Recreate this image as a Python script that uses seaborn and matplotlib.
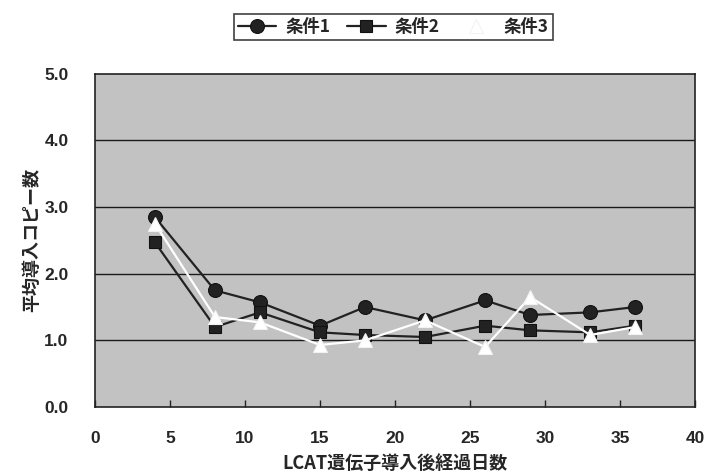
import matplotlib
matplotlib.use("Agg")
import matplotlib.pyplot as plt
import seaborn as sns
import pandas as pd

# Days after LCAT gene transfer and mean copy number per condition
days = [4, 8, 11, 15, 18, 22, 26, 29, 33, 36]
cond1 = [2.85, 1.75, 1.57, 1.22, 1.50, 1.30, 1.60, 1.38, 1.42, 1.50]
cond2 = [2.47, 1.20, 1.42, 1.12, 1.08, 1.05, 1.22, 1.15, 1.12, 1.22]
cond3 = [2.75, 1.35, 1.27, 0.93, 1.00, 1.30, 0.90, 1.65, 1.08, 1.20]
labels = ["条件1", "条件2", "条件3"]
y_ticks = [0.0, 1.0, 2.0, 3.0, 4.0, 5.0]
x_ticks = [0, 5, 10, 15, 20, 25, 30, 35, 40]

sns.set_theme(style="white")
plt.rcParams["font.family"] = ["Noto Sans CJK JP", "DejaVu Sans"]

df = pd.DataFrame({
    "day": days * 3,
    "copies": cond1 + cond2 + cond3,
    "cond": [labels[0]] * len(days) + [labels[1]] * len(days) + [labels[2]] * len(days),
})

fig = plt.figure(figsize=(7.08, 4.76), dpi=100)
ax = fig.add_axes([0.134, 0.145, 0.848, 0.700])
ax.set_facecolor("#c2c2c2")

styles = {
    labels[0]: dict(color="#222222", marker="o", markersize=10, mfc="#222222", mec="#111111", lw=1.6, z=3),
    labels[1]: dict(color="#222222", marker="s", markersize=9, mfc="#222222", mec="#111111", lw=1.6, z=4),
    labels[2]: dict(color="#ffffff", marker="^", markersize=10, mfc="#ffffff", mec="#f2f2f2", lw=1.6, z=5),
}
for name in labels:
    s = styles[name]
    sub = df[df["cond"] == name]
    sns.lineplot(data=sub, x="day", y="copies", ax=ax, color=s["color"], lw=s["lw"],
                 marker=s["marker"], markersize=s["markersize"],
                 markerfacecolor=s["mfc"], markeredgecolor=s["mec"], markeredgewidth=0.8,
                 label=name, zorder=s["z"])

num_font = ["Liberation Sans", "DejaVu Sans"]
ax.set_xlim(0, 40)
ax.set_ylim(0, 5)
ax.set_xticks(x_ticks)
ax.set_yticks(y_ticks)
ax.set_xticklabels([str(v) for v in x_ticks], fontsize=12.5, fontweight="bold", family=num_font)
ax.set_yticklabels([f"{v:.1f}" for v in y_ticks], fontsize=12.5, fontweight="bold", family=num_font)
for y in y_ticks[1:-1]:
    ax.axhline(y, color="#1a1a1a", lw=1.0, zorder=1)
ax.tick_params(axis="x", direction="in", length=5, width=1, color="#222222", pad=17, bottom=True)
ax.tick_params(axis="y", length=0, pad=19)
for sp in ax.spines.values():
    sp.set_color("#222222")
    sp.set_linewidth(1.2)

ax.set_xlabel("LCAT遺伝子導入後経過日数", fontsize=13, fontweight="bold", labelpad=6)
ax.set_ylabel("平均導入コピー数", fontsize=13, fontweight="bold")
ax.yaxis.set_label_coords(-0.09, 0.5)

leg = ax.legend(loc="lower center", bbox_to_anchor=(0.497, 1.10), ncol=3, frameon=True,
                fancybox=False, edgecolor="#111111", fontsize=12.5, handlelength=2.2,
                columnspacing=1.0, handletextpad=0.5, borderpad=0.25, borderaxespad=0)
leg.get_frame().set_linewidth(1.2)
for t in leg.get_texts():
    t.set_fontweight("bold")

fig.savefig("out.png", dpi=100, facecolor="white")
